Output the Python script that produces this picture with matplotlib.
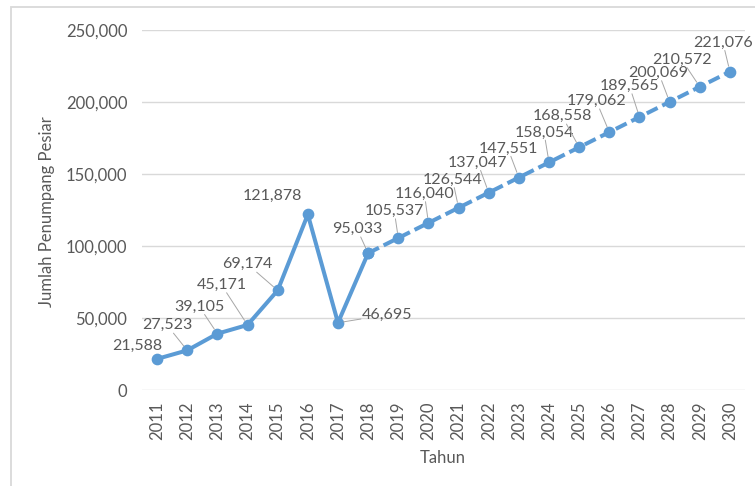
import matplotlib
matplotlib.use("Agg")
import matplotlib.pyplot as plt
from matplotlib.patches import Rectangle

years = [str(y) for y in range(2011, 2031)]
values = [21588, 27523, 39105, 45171, 69174, 121878, 46695, 95033, 105537,
          116040, 126544, 137047, 147551, 158054, 168558, 179062, 189565,
          200069, 210572, 221076]
labels = [f"{v:,}" for v in values]
split_idx = 7  # 2018: actual data ends, projection begins

# label offsets in pixels (dx, dy) relative to point
label_offsets = [(-20, 13), (-20, 25), (-18, 27), (-26, 40), (-30, 26), (-35, 19),
                 (49, 8), (-11, 24), (-4, 27), (-4, 29), (-6, 28), (-11, 30),
                 (-11, 29), (-5, 30), (-17, 31), (-13, 31), (-10, 31), (-11, 29),
                 (-18, 27), (-7, 29)]
leader = [False, True, True, True, True, False, True, True, True, True, True, True,
          True, True, True, True, True, True, True, True]

plt.rcParams['font.family'] = ['Lato', 'DejaVu Sans']
txt = '#595959'
blue = '#5B9BD5'
fs = 12

fig = plt.figure(figsize=(7.55, 4.86), dpi=100)
W, H = 755, 486
ax = fig.add_axes([142 / W, 1 - 390 / H, (745 - 142) / W, (390 - 30) / H])

x = list(range(len(years)))
ax.plot(x[:split_idx + 1], values[:split_idx + 1], color=blue, lw=2.9,
        marker='o', ms=7.4, solid_capstyle='round', solid_joinstyle='round', zorder=3)
ax.plot(x[split_idx:], values[split_idx:], color=blue, lw=2.9,
        linestyle=(0, (3.0, 1.3)), dash_capstyle='butt', marker='o', ms=7.4, zorder=3)

ax.set_xlim(-0.5, len(years) - 0.5)
ax.set_ylim(0, 250000)
ax.set_yticks(range(0, 250001, 50000))
ax.set_yticklabels([f"{v:,}" for v in range(0, 250001, 50000)])
ax.set_xticks(x)
ax.set_xticklabels(years, rotation=90)
ax.tick_params(length=0, colors=txt, labelsize=fs)
ax.tick_params(axis='y', pad=10.5)
ax.tick_params(axis='x', pad=8)
for s in ax.spines.values():
    s.set_visible(False)
ax.grid(axis='y', color='#D9D9D9', lw=1)
ax.set_axisbelow(True)

for i, (v, lab) in enumerate(zip(values, labels)):
    dx, dy = label_offsets[i]
    kw = {}
    if leader[i]:
        kw['arrowprops'] = dict(arrowstyle='-', color='#A6A6A6', lw=0.7,
                                shrinkA=0, shrinkB=4)
    ax.annotate(lab, (i, v), xytext=(dx, dy), textcoords='offset pixels',
                ha='center', va='center', fontsize=11.5, color=txt,
                bbox=dict(boxstyle='square,pad=0.05', fc='none', ec='none'),
                zorder=4, **kw)

fig.text(47 / W, 1 - 212 / H, 'Jumlah Penumpang Pesiar', rotation=90,
         ha='center', va='center', fontsize=fs, color=txt)
fig.text(443 / W, 1 - 458 / H, 'Tahun', ha='center', va='center',
         fontsize=fs, color=txt)

fig.patches.append(Rectangle((10.5 / W, -0.05), 1.2, 1 - 7.5 / H + 0.05,
                             transform=fig.transFigure, fill=False,
                             ec='#D9D9D9', lw=1.3))

fig.savefig('out.png', dpi=100)
